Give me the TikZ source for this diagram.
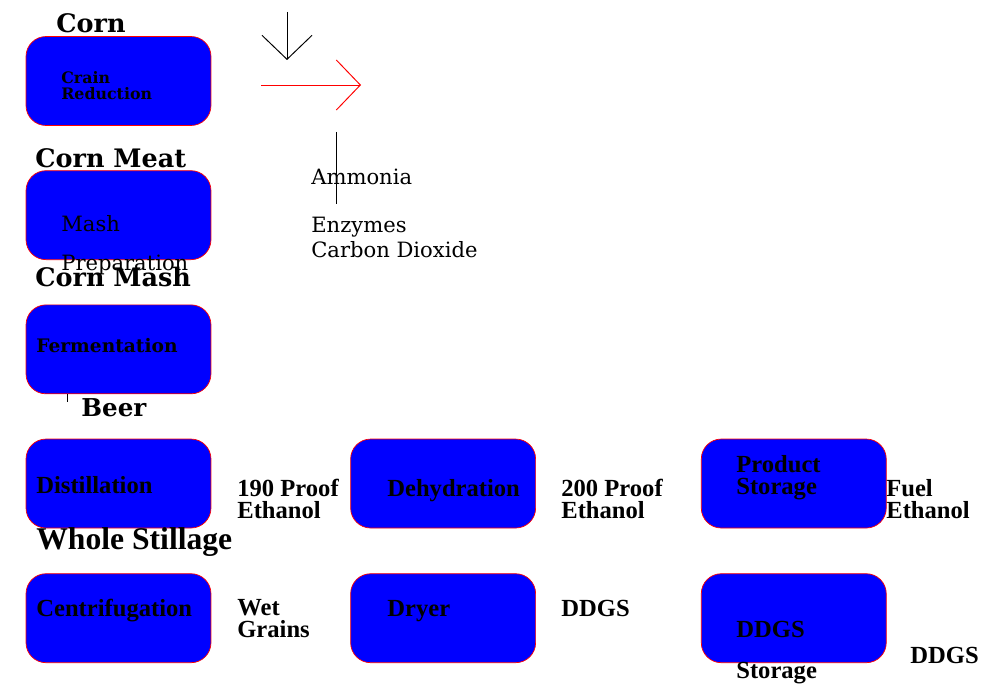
\documentclass[tikz,border=0pt]{standalone}
\usepackage{fontspec}
\setmainfont{DejaVu Serif}
\newfontfamily\lowfont{Liberation Serif}
\usetikzlibrary{positioning,arrows.meta}
\tikzset{stage/.style={draw=red, fill=blue, rounded corners=0.4cm,
    minimum width=3.7cm, minimum height=1.78cm, inner sep=0pt},
  head/.style={anchor=base west, inner sep=0pt, font=\bfseries\fontsize{14.5}{16}\selectfont},
  intxt/.style={anchor=base west, inner sep=0pt, align=left, font=\fontsize{12}{14.2}\selectfont},
  low/.style={anchor=base west, inner sep=0pt, align=left, font=\lowfont\bfseries\fontsize{14}{12.4}\selectfont},
  barb/.style={-{Straight Barb[length=0.48cm,width=1cm]}, line width=0.55pt}
}

\begin{document}
\begin{tikzpicture}[x=0.02cm, y=-0.02cm, node distance=0.89cm]
  \useasboundingbox (0,0) rectangle (987,686);
  % stages
  \node[stage] (grain) at (118.5,81) {};
  \node[stage] (mash)  [below=of grain] {};
  \node[stage] (ferm)  [below=of mash] {};
  \node[stage] (dist)  [below=of ferm] {};
  \node[stage] (dehyd) [right=2.78cm of dist] {};
  \node[stage] (prod)  [right=3.3cm of dehyd] {};
  \node[stage] (centr) [below=0.9cm of dist] {};
  \node[stage] (dryer) [below=0.9cm of dehyd] {};
  \node[stage] (ddgss) [below=0.9cm of prod] {};

  % texts in the stages (base = last line)
  \node[anchor=base west, inner sep=0pt, align=left, font=\bfseries\fontsize{9}{9.6}\selectfont] (graintxt) at (61,100) {Crain\\Reduction};
  \node[intxt] (mashtxt) at (61,231) {Mash};
  \node[intxt] (preptxt) at (61,270) {Preparation};
  \node[anchor=base west, inner sep=0pt, font=\bfseries\fontsize{10.6}{12}\selectfont] (fermtxt) at (36,352) {Fermentation};
  \node[low] (disttxt)  at (36,493)  {Distillation};
  \node[low] (dehydtxt) at (387,496) {Dehydration};
  \node[low] (prodtxt)  at (736,494) {Product\\Storage};
  \node[low] (centrtxt) at (36,616)  {Centrifugation};
  \node[low] (dryertxt) at (387,616) {Dryer};
  \node[low] (ddgstxt)  at (736,637) {DDGS};
  \node[low] (stortxt)  at (736,678) {Storage};

  % streams
  \node[head] (corn)     at (56,33)  {Corn};
  \node[head] (cornmeat) at (35,167) {Corn Meat};
  \node[head] (cornmash) at (35,286) {Corn Mash};
  \node[head, font=\bfseries\fontsize{14}{16}\selectfont] (beer) at (81,416) {Beer};
  \node[low, font=\lowfont\bfseries\fontsize{18}{20}\selectfont] (stillage) at (36,549) {Whole Stillage};
  \node[intxt] (ammonia) at (311,184) {Ammonia};
  \node[intxt] (enzymes) at (311,257) {Enzymes\\Carbon Dioxide};
  \node[low] (e190)  at (237,518) {190 Proof\\Ethanol};
  \node[low] (e200)  at (561,518) {200 Proof\\Ethanol};
  \node[low] (fuel)  at (886,518) {Fuel\\Ethanol};
  \node[low] (wet)   at (237,637) {Wet\\Grains};
  \node[low] (ddgs1) at (561,616) {DDGS};
  \node[low] (ddgs2) at (910,663) {DDGS};

  % connectors
  \coordinate (intop) at (287,12);
  \coordinate (inend) at (287,60);
  \coordinate (outstart) at (261,85);
  \coordinate (outend) at (361,85);
  \coordinate (amtop) at (336,132);
  \coordinate (ambot) at (336,204);
  \coordinate (beertop) at (67,394);
  \coordinate (beerbot) at (67,402);
  \draw[barb] (intop) -- (inend);
  \draw[barb, red] (outstart) -- (outend);
  \draw[line width=0.55pt] (amtop) -- (ambot);
  \draw[line width=0.4pt] (beertop) -- (beerbot);
\end{tikzpicture}
\end{document}
